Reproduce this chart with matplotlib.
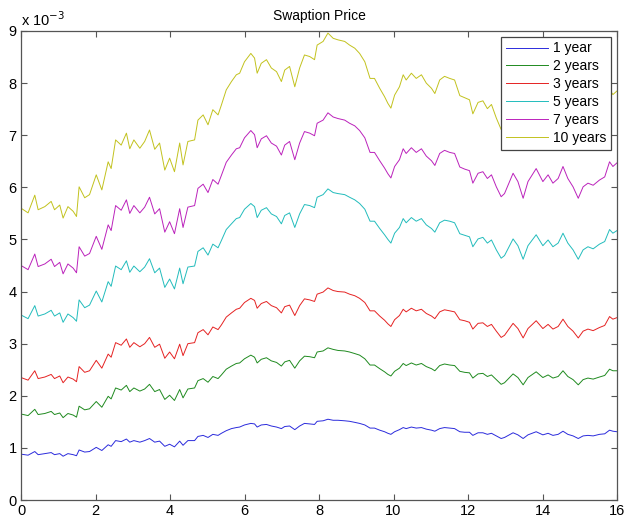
import matplotlib.pyplot as plt

plt.rcParams['font.family'] = ['Liberation Sans', 'DejaVu Sans']

# time grid (years) and swaption prices, in units of 1e-3
t = [0.00, 0.19, 0.37, 0.46, 0.64, 0.81, 0.90, 1.04, 1.13, 1.26, 1.40, 1.49, 1.56, 1.71, 1.84,
     2.02, 2.17, 2.34, 2.42, 2.54, 2.69, 2.83, 2.92, 3.03, 3.19, 3.32, 3.45, 3.59, 3.72, 3.86,
     3.99, 4.12, 4.26, 4.35, 4.48, 4.66, 4.75, 4.89, 5.02, 5.15, 5.29, 5.38, 5.51, 5.65, 5.78,
     5.87, 6.00, 6.17, 6.27, 6.34, 6.45, 6.59, 6.72, 6.86, 6.99, 7.08, 7.21, 7.35, 7.48, 7.61,
     7.75, 7.88, 7.95, 8.11, 8.24, 8.38, 8.51, 8.69, 8.82, 8.96, 9.09, 9.23, 9.37, 9.49, 9.63,
     9.76, 9.85, 9.93, 10.03, 10.16, 10.26, 10.34, 10.48, 10.61, 10.75, 10.88, 11.02, 11.11, 11.24, 11.37,
     11.51, 11.64, 11.78, 11.91, 12.04, 12.13, 12.27, 12.40, 12.52, 12.63, 12.76, 12.89, 12.98, 13.21, 13.34,
     13.48, 13.61, 13.83, 14.01, 14.15, 14.28, 14.42, 14.55, 14.68, 14.82, 14.96, 15.09, 15.22, 15.36, 15.53,
     15.67, 15.80, 15.89, 16.00]

price_10y = [5.60, 5.51, 5.85, 5.57, 5.63, 5.73, 5.57, 5.66, 5.41, 5.63, 5.54, 5.44, 6.01, 5.80, 5.86,
             6.24, 5.95, 6.49, 6.36, 6.91, 6.81, 7.04, 6.74, 6.91, 6.75, 6.88, 7.10, 6.73, 6.85, 6.33,
             6.56, 6.30, 6.85, 6.43, 6.88, 6.91, 7.29, 7.39, 7.20, 7.49, 7.39, 7.58, 7.87, 8.03, 8.16,
             8.19, 8.41, 8.57, 8.48, 8.19, 8.38, 8.45, 8.29, 8.22, 8.03, 8.25, 8.32, 7.93, 8.29, 8.54,
             8.51, 8.45, 8.73, 8.80, 8.96, 8.86, 8.83, 8.80, 8.73, 8.67, 8.57, 8.41, 8.09, 8.09, 7.90,
             7.74, 7.61, 7.52, 7.77, 7.93, 8.16, 8.06, 8.19, 8.09, 8.16, 8.00, 7.90, 7.80, 8.06, 8.13,
             8.09, 8.06, 7.76, 7.72, 7.68, 7.41, 7.63, 7.66, 7.51, 7.59, 7.33, 7.11, 7.18, 7.63, 7.44,
             7.08, 7.44, 7.73, 7.44, 7.59, 7.41, 7.51, 7.78, 7.51, 7.33, 7.08, 7.33, 7.41, 7.36, 7.48,
             7.55, 7.88, 7.78, 7.85]

price_7y = [4.50, 4.42, 4.72, 4.48, 4.53, 4.62, 4.48, 4.56, 4.34, 4.53, 4.45, 4.36, 4.86, 4.68, 4.73,
            5.06, 4.81, 5.28, 5.17, 5.65, 5.56, 5.76, 5.50, 5.65, 5.51, 5.62, 5.81, 5.49, 5.59, 5.14,
            5.34, 5.11, 5.59, 5.23, 5.62, 5.65, 5.98, 6.06, 5.90, 6.15, 6.06, 6.23, 6.48, 6.62, 6.74,
            6.76, 6.95, 7.09, 7.01, 6.76, 6.93, 6.99, 6.85, 6.79, 6.62, 6.81, 6.88, 6.53, 6.85, 7.07,
            7.04, 6.99, 7.23, 7.29, 7.43, 7.35, 7.32, 7.29, 7.23, 7.18, 7.09, 6.95, 6.67, 6.67, 6.51,
            6.37, 6.26, 6.18, 6.40, 6.53, 6.74, 6.65, 6.76, 6.67, 6.74, 6.60, 6.51, 6.42, 6.65, 6.71,
            6.67, 6.65, 6.39, 6.35, 6.32, 6.08, 6.27, 6.30, 6.17, 6.24, 6.01, 5.82, 5.88, 6.27, 6.11,
            5.79, 6.11, 6.36, 6.11, 6.24, 6.08, 6.17, 6.40, 6.17, 6.01, 5.79, 6.01, 6.08, 6.04, 6.14,
            6.20, 6.49, 6.40, 6.47]

price_5y = [3.55, 3.48, 3.73, 3.53, 3.57, 3.64, 3.53, 3.59, 3.41, 3.57, 3.50, 3.43, 3.84, 3.69, 3.74,
            4.01, 3.80, 4.19, 4.10, 4.49, 4.42, 4.59, 4.37, 4.49, 4.38, 4.47, 4.63, 4.36, 4.45, 4.08,
            4.24, 4.05, 4.45, 4.15, 4.47, 4.49, 4.77, 4.84, 4.70, 4.91, 4.84, 4.98, 5.19, 5.30, 5.40,
            5.42, 5.58, 5.69, 5.63, 5.42, 5.56, 5.61, 5.49, 5.44, 5.30, 5.46, 5.51, 5.23, 5.49, 5.67,
            5.65, 5.61, 5.81, 5.86, 5.97, 5.90, 5.88, 5.86, 5.81, 5.76, 5.69, 5.58, 5.35, 5.35, 5.21,
            5.09, 5.00, 4.93, 5.12, 5.23, 5.40, 5.32, 5.42, 5.35, 5.40, 5.28, 5.21, 5.14, 5.32, 5.37,
            5.35, 5.32, 5.11, 5.08, 5.05, 4.86, 5.01, 5.04, 4.93, 4.99, 4.80, 4.64, 4.69, 5.01, 4.88,
            4.62, 4.88, 5.09, 4.88, 4.99, 4.86, 4.93, 5.12, 4.93, 4.80, 4.62, 4.80, 4.86, 4.82, 4.91,
            4.96, 5.19, 5.12, 5.17]

price_3y = [2.35, 2.30, 2.48, 2.33, 2.36, 2.41, 2.33, 2.38, 2.25, 2.36, 2.32, 2.27, 2.56, 2.45, 2.48,
            2.68, 2.53, 2.80, 2.74, 3.02, 2.97, 3.09, 2.93, 3.02, 2.94, 3.00, 3.12, 2.93, 2.99, 2.72,
            2.84, 2.71, 2.99, 2.77, 3.00, 3.02, 3.21, 3.27, 3.17, 3.32, 3.27, 3.36, 3.51, 3.59, 3.66,
            3.68, 3.79, 3.87, 3.83, 3.68, 3.77, 3.81, 3.73, 3.69, 3.59, 3.71, 3.74, 3.54, 3.73, 3.86,
            3.84, 3.81, 3.95, 3.99, 4.07, 4.02, 4.00, 3.99, 3.95, 3.92, 3.87, 3.79, 3.63, 3.63, 3.53,
            3.45, 3.38, 3.33, 3.46, 3.54, 3.66, 3.61, 3.68, 3.63, 3.66, 3.58, 3.53, 3.48, 3.61, 3.65,
            3.63, 3.61, 3.46, 3.44, 3.41, 3.28, 3.39, 3.40, 3.33, 3.37, 3.24, 3.12, 3.16, 3.39, 3.29,
            3.11, 3.29, 3.44, 3.29, 3.37, 3.28, 3.33, 3.47, 3.33, 3.24, 3.11, 3.24, 3.28, 3.25, 3.31,
            3.35, 3.52, 3.47, 3.50]

price_2y = [1.65, 1.62, 1.74, 1.64, 1.66, 1.70, 1.64, 1.67, 1.58, 1.66, 1.63, 1.59, 1.80, 1.73, 1.75,
            1.89, 1.78, 1.99, 1.94, 2.15, 2.11, 2.20, 2.08, 2.15, 2.09, 2.13, 2.22, 2.08, 2.12, 1.93,
            2.01, 1.91, 2.12, 1.96, 2.13, 2.15, 2.29, 2.33, 2.26, 2.37, 2.33, 2.40, 2.51, 2.57, 2.62,
            2.63, 2.71, 2.78, 2.74, 2.63, 2.70, 2.73, 2.67, 2.64, 2.57, 2.65, 2.68, 2.53, 2.67, 2.76,
            2.75, 2.73, 2.84, 2.86, 2.92, 2.89, 2.87, 2.86, 2.84, 2.81, 2.78, 2.71, 2.59, 2.59, 2.52,
            2.46, 2.41, 2.38, 2.47, 2.53, 2.62, 2.58, 2.63, 2.59, 2.62, 2.56, 2.52, 2.48, 2.58, 2.61,
            2.59, 2.58, 2.47, 2.45, 2.44, 2.34, 2.42, 2.43, 2.37, 2.40, 2.31, 2.22, 2.25, 2.42, 2.35,
            2.21, 2.35, 2.46, 2.35, 2.40, 2.34, 2.37, 2.48, 2.37, 2.31, 2.21, 2.31, 2.34, 2.32, 2.36,
            2.39, 2.51, 2.48, 2.48]

price_1y = [0.88, 0.86, 0.93, 0.87, 0.89, 0.91, 0.87, 0.89, 0.84, 0.89, 0.87, 0.85, 0.96, 0.92, 0.93,
            1.01, 0.95, 1.06, 1.03, 1.14, 1.12, 1.17, 1.11, 1.14, 1.11, 1.14, 1.18, 1.11, 1.13, 1.03,
            1.07, 1.02, 1.13, 1.05, 1.14, 1.14, 1.22, 1.24, 1.20, 1.26, 1.24, 1.28, 1.33, 1.37, 1.39,
            1.40, 1.44, 1.47, 1.46, 1.40, 1.44, 1.45, 1.42, 1.40, 1.37, 1.41, 1.42, 1.35, 1.42, 1.47,
            1.46, 1.45, 1.51, 1.52, 1.55, 1.53, 1.53, 1.52, 1.51, 1.49, 1.47, 1.44, 1.38, 1.38, 1.34,
            1.31, 1.28, 1.26, 1.31, 1.35, 1.39, 1.37, 1.40, 1.38, 1.39, 1.36, 1.34, 1.32, 1.37, 1.39,
            1.38, 1.37, 1.31, 1.30, 1.30, 1.24, 1.29, 1.29, 1.26, 1.28, 1.23, 1.18, 1.20, 1.29, 1.25,
            1.18, 1.25, 1.31, 1.25, 1.28, 1.24, 1.26, 1.32, 1.26, 1.23, 1.18, 1.23, 1.24, 1.23, 1.26,
            1.27, 1.34, 1.32, 1.31]

series = [
    ('1 year', price_1y, '#2b2bdc'),
    ('2 years', price_2y, '#1f8a1f'),
    ('3 years', price_3y, '#e52222'),
    ('5 years', price_5y, '#22bcbc'),
    ('7 years', price_7y, '#bb22bb'),
    ('10 years', price_10y, '#c2c21e'),
]

fig = plt.figure(figsize=(6.24, 5.23), dpi=100)
ax = fig.add_axes([21 / 624, 23 / 523, 596 / 624, 469 / 523])

for label, vals, col in series:
    ax.plot(t, vals, color=col, lw=0.7, label=label)

ax.set_xlim(0, 16)
ax.set_ylim(0, 9)
ax.set_xticks(range(0, 17, 2))
ax.set_yticks(range(0, 10))
ax.tick_params(direction='in', top=True, right=True, labelsize=10.5, length=4,
               width=0.8, color='#555555', pad=3)
for sp in ax.spines.values():
    sp.set_color('#555555')
    sp.set_linewidth(0.9)

ax.set_title('Swaption Price', fontsize=10, pad=8)
ax.text(0.0, 1.005, r'x 10$^{-3}$', transform=ax.transAxes, fontsize=10.5,
        ha='left', va='bottom')

leg = ax.legend(loc='upper right', fontsize=10, handlelength=3.0, labelspacing=0.28,
                borderaxespad=0.4, fancybox=False, framealpha=1, borderpad=0.35,
                handletextpad=0.4)
leg.get_frame().set_edgecolor('#444444')
leg.get_frame().set_linewidth(0.9)

fig.savefig('out.png', dpi=100)
